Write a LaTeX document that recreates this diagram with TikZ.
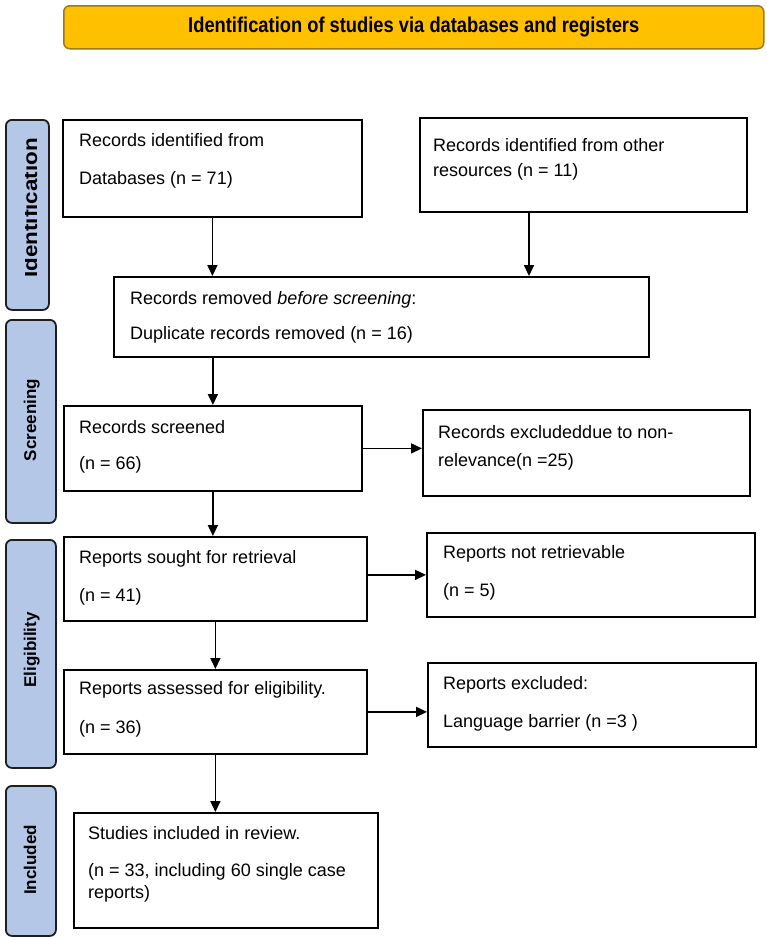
\documentclass[tikz,border=0pt]{standalone}
\usepackage{fontspec}
\setmainfont{Liberation Sans}
\usetikzlibrary{arrows.meta}
\definecolor{bannerfill}{HTML}{FFC000}
\definecolor{bannerdraw}{HTML}{9C7A1B}
\definecolor{barfill}{HTML}{B4C7E7}
\definecolor{bardraw}{HTML}{1E1E1E}
\begin{document}
\begin{tikzpicture}[x=1pt,y=-1pt,
  box/.style={draw=black, line width=1.8pt, fill=white, rectangle, anchor=north west, inner sep=0pt},
  txt/.style={anchor=base west, inner sep=0pt, font=\fontsize{18}{21}\selectfont},
  bar/.style={draw=bardraw, line width=1.8pt, fill=barfill, rounded corners=6pt, anchor=north west, inner sep=0pt, minimum width=50pt},
  lab/.style={rotate=90, anchor=base, inner sep=0pt, font=\fontsize{17}{20}\selectfont\bfseries},
  banner/.style={draw=bannerdraw, line width=1.5pt, fill=bannerfill, rounded corners=6pt, anchor=north west, inner sep=0pt},
  arr/.style={line width=1.7pt, -{Triangle[length=11pt,width=10pt]}}]
\useasboundingbox (0,0) rectangle (767,937);

% banner
\node[banner, minimum width=700pt, minimum height=43pt] (ban) at (63,5) {};
\node[inner sep=0pt] (bantxt) at (ban.center) {\resizebox{451pt}{15.5pt}{\bfseries Identification of studies via databases and registers}};

% side bars
\node[bar, minimum width=43pt, minimum height=190pt] (bid) at (5,119) {};
\node[bar, minimum height=203pt] (bscr) at (5,319) {};
\node[bar, minimum height=228pt] (belig) at (5,539) {};
\node[bar, minimum height=150pt] (binc) at (5,785) {};
\begin{scope}
  \clip (25.5,119) rectangle (48,309);
  \node[lab, font=\fontsize{20}{24}\selectfont\bfseries] (lid) at (37,208) {\scalebox{1.12}[1]{Identification}};
\end{scope}
\node[lab] (lscr) at (36,420) {Screening};
\node[lab] (lelig) at (36,650) {Eligibility};
\node[lab] (linc) at (36,860) {Included};

% boxes
\node[box, minimum width=299pt, minimum height=97pt] (db) at (62,119) {};
\node[txt] (db1) at (79,146) {Records identified from};
\node[txt] (db2) at (79,184) {Databases (n = 71)};

\node[box, minimum width=327pt, minimum height=94pt] (other) at (419,117) {};
\node[txt] (ot1) at (433,151) {Records identified from other};
\node[txt] (ot2) at (433,176) {resources (n = 11)};

\node[box, minimum width=535pt, minimum height=80pt] (rem) at (113,276) {};
\node[txt] (rem1) at (130,304) {Records removed \textit{before screening}:};
\node[txt] (rem2) at (130,339) {Duplicate records removed (n = 16)};

\node[box, minimum width=298pt, minimum height=85pt] (scr) at (63,405) {};
\node[txt] (scr1) at (79,433) {Records screened};
\node[txt] (scr2) at (79,469) {(n = 66)};

\node[box, minimum width=327pt, minimum height=86pt] (exc) at (422,409) {};
\node[txt] (exc1) at (438,438) {Records excludeddue to non-};
\node[txt] (exc2) at (438,466) {relevance(n =25)};

\node[box, minimum width=303pt, minimum height=84pt] (sought) at (63,536) {};
\node[txt] (so1) at (79,563) {Reports sought for retrieval};
\node[txt] (so2) at (79,601) {(n = 41)};

\node[box, minimum width=328pt, minimum height=84pt] (nret) at (426,532) {};
\node[txt] (nr1) at (443,558) {Reports not retrievable};
\node[txt] (nr2) at (443,596) {(n = 5)};

\node[box, minimum width=303pt, minimum height=84pt] (asse) at (63,669) {};
\node[txt] (as1) at (79,694) {Reports assessed for eligibility.};
\node[txt] (as2) at (79,733) {(n = 36)};

\node[box, minimum width=328pt, minimum height=84pt] (rexc) at (427,662) {};
\node[txt] (re1) at (443,689) {Reports excluded:};
\node[txt] (re2) at (443,727) {Language barrier (n =3 )};

\node[box, minimum width=304pt, minimum height=115pt] (stud) at (73,812) {};
\node[txt] (st1) at (88,839) {Studies included in review.};
\node[txt] (st2) at (88,876) {(n = 33, including 60 single case};
\node[txt] (st3) at (88,898) {reports)};

% connectors
\coordinate (a2) at (529,0);
\draw[arr] (db.south) -- (db.south |- rem.north);
\draw[arr] (other.south -| a2) -- (a2 |- rem.north);
\draw[arr] (rem.south -| scr.south) -- (scr.north);
\draw[arr] (scr.east) -- (scr.east -| exc.west);
\draw[arr] (scr.south) -- (scr.south |- sought.north);
\draw[arr] (nret.west -| sought.east) -- (nret.west);
\draw[arr] (sought.south) -- (sought.south |- asse.north);
\draw[arr] (asse.east) -- (asse.east -| rexc.west);
\draw[arr] (asse.south) -- (asse.south |- stud.north);
\end{tikzpicture}
\end{document}
